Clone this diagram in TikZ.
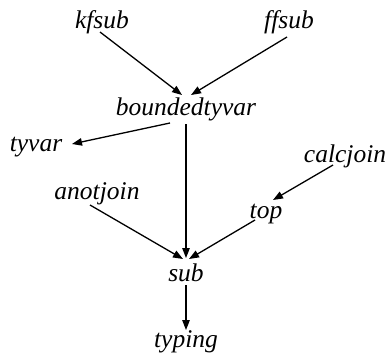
\documentclass[tikz,border=0pt]{standalone}
\usepackage{fontspec}
\newfontfamily\tms{Liberation Serif}
\usetikzlibrary{arrows.meta}
\begin{document}
\begin{tikzpicture}[x=1pt,y=-1pt,
  lbl/.style={anchor=base,inner sep=0pt,font=\tms\itshape\fontsize{25.5}{30}\selectfont},
  arr/.style={line width=1.3pt,-{Triangle[length=10pt,width=7.5pt]}}]
\useasboundingbox (0,0) rectangle (390,356);
\node[lbl] (kfsub) at (102,28) {kfsub};
\node[lbl] (ffsub) at (289,28) {ffsub};
\node[lbl] (bt) at (186,115) {boundedtyvar};
\node[lbl] (tyvar) at (36,151) {tyvar};
\node[lbl] (calcjoin) at (345,162) {calcjoin};
\node[lbl] (anotjoin) at (97,199) {anotjoin};
\node[lbl] (top) at (266,218) {top};
\node[lbl] (sub) at (186,281) {sub};
\node[lbl] (typing) at (186,347) {typing};
\draw[arr] ([shift={(-2,4)}]kfsub.base) -- ([shift={(-4,-20)}]bt.base);
\draw[arr] ([shift={(-2,9)}]ffsub.base) -- ([shift={(5,-20)}]bt.base);
\draw[arr] ([shift={(-16,8)}]bt.base) -- ([shift={(36,-7)}]tyvar.base);
\draw[arr] ([shift={(0,9)}]bt.base) -- ([shift={(0,-23)}]sub.base);
\draw[arr] ([shift={(-12,3)}]calcjoin.base) -- ([shift={(7,-18)}]top.base);
\draw[arr] ([shift={(-11,2)}]top.base) -- ([shift={(3,-22)}]sub.base);
\draw[arr] ([shift={(-7,6)}]anotjoin.base) -- ([shift={(-3,-22)}]sub.base);
\draw[arr] ([shift={(0,4)}]sub.base) -- ([shift={(0,-17)}]typing.base);
\end{tikzpicture}
\end{document}
